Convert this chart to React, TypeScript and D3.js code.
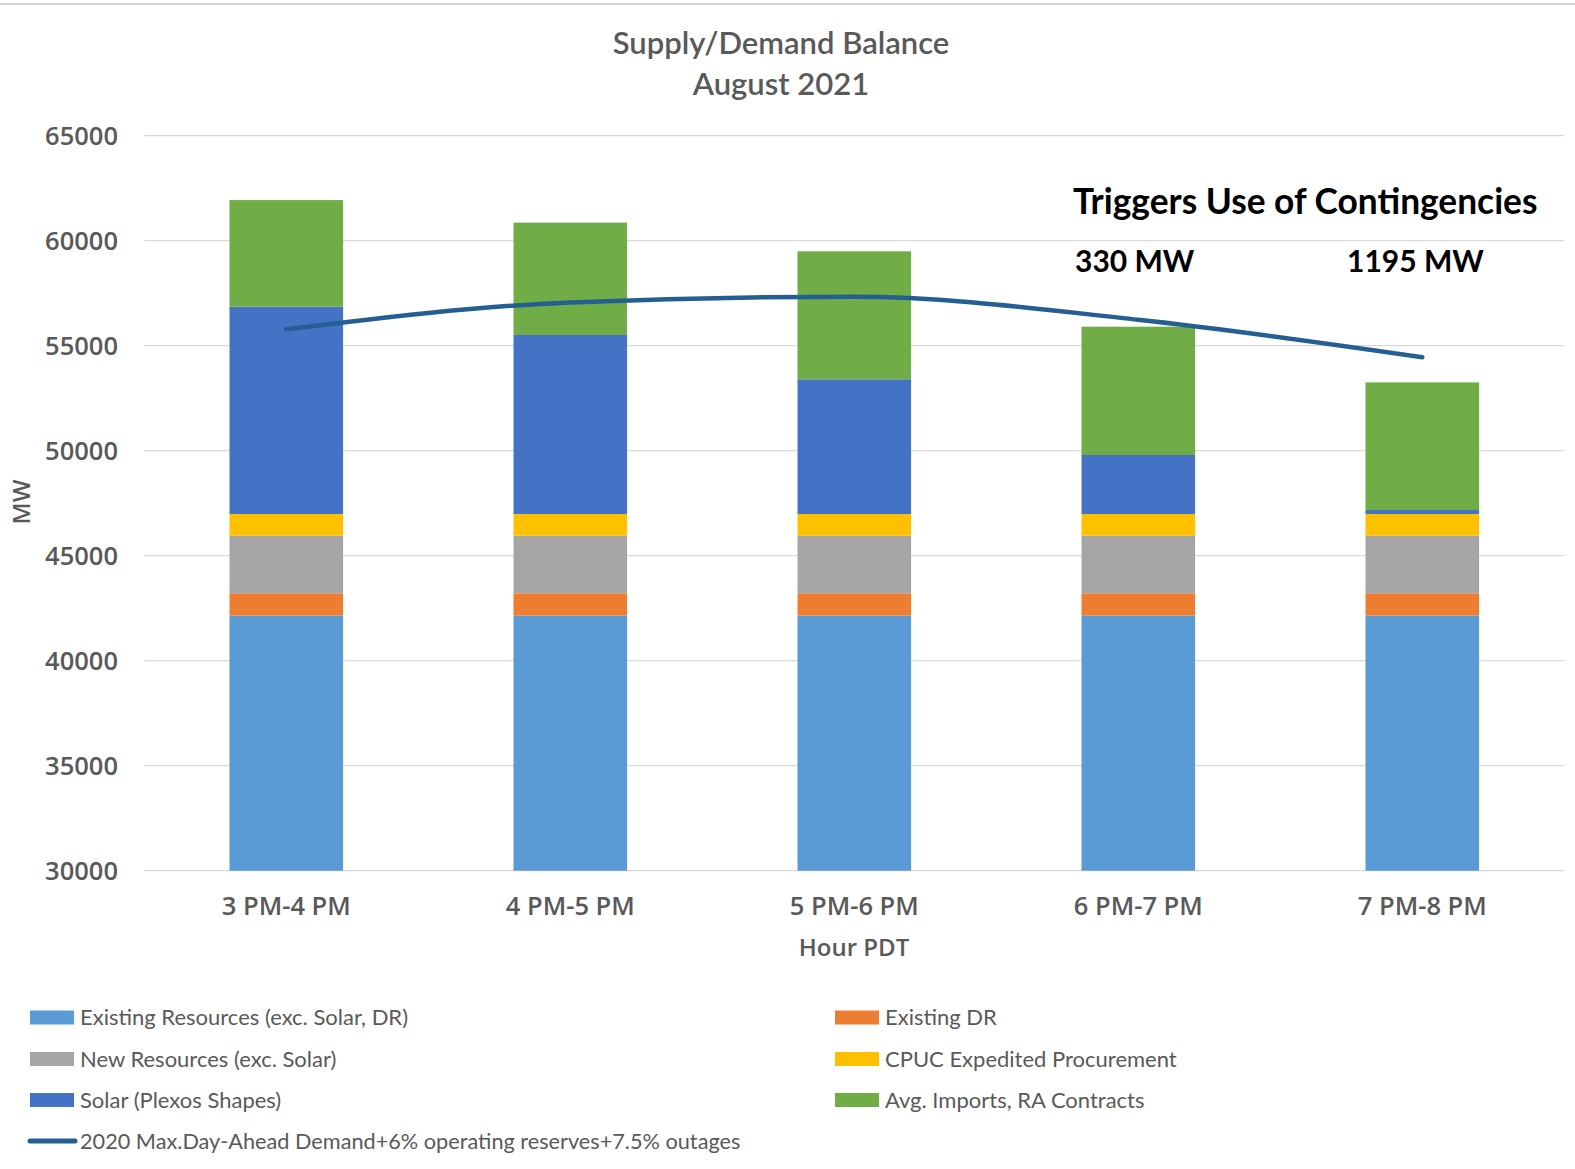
import * as d3 from "d3";
import { useEffect, useRef } from "react";

const categories = ["3 PM-4 PM", "4 PM-5 PM", "5 PM-6 PM", "6 PM-7 PM", "7 PM-8 PM"];

const existing = [42150, 42150, 42150, 42150, 42150];
const existingDR = [1060, 1060, 1060, 1060, 1060];
const newResources = [2745, 2745, 2745, 2745, 2745];
const cpuc = [1030, 1030, 1030, 1030, 1030];
const solar = [9870, 8525, 6415, 2810, 190];
const imports = [5080, 5350, 6095, 6110, 6080];

const demand = [55780, 57060, 57330, 56235, 54450];

const yTicks = [30000, 35000, 40000, 45000, 50000, 55000, 60000, 65000];

const seriesNames = [
    "Existing Resources (exc. Solar, DR)",
    "Existing DR",
    "New Resources (exc. Solar)",
    "CPUC Expedited Procurement",
    "Solar (Plexos Shapes)",
    "Avg. Imports, RA Contracts",
];
const seriesColors = ["#5B9BD5", "#ED7D31", "#A5A5A5", "#FFC000", "#4472C4", "#70AD47"];
const lineName = "2020 Max.Day-Ahead Demand+6% operating reserves+7.5% outages";
const lineColor = "#255E91";

const annotations = ["Triggers Use of Contingencies", "330 MW", "1195 MW"];

const W = 1575;
const H = 1169;

export default function App() {
    const ref = useRef<SVGSVGElement | null>(null);

    useEffect(() => {
        if (!ref.current) return;
        const svg = d3.select(ref.current);
        svg.selectAll("*").remove();

        const left = 144.3, right = 1564.3, top = 135.7, bottom = 870.7;
        const gray = "#595959";

        svg.append("rect").attr("width", W).attr("height", H).attr("fill", "white");
        svg.append("line")
            .attr("x1", 0).attr("x2", W).attr("y1", 4).attr("y2", 4)
            .attr("stroke", "#d0d0d0").attr("stroke-width", 2);

        const x = d3.scaleBand<string>()
            .domain(categories)
            .range([left, right])
            .paddingInner(0.6)
            .paddingOuter(0.3);

        const y = d3.scaleLinear().domain([30000, 65000]).range([bottom, top]);

        // gridlines + tick labels
        yTicks.forEach(t => {
            svg.append("line")
                .attr("x1", left).attr("x2", right)
                .attr("y1", y(t)).attr("y2", y(t))
                .attr("stroke", "#d9d9d9").attr("stroke-width", 1.3);
            svg.append("text")
                .attr("x", 118).attr("y", y(t))
                .attr("dy", "0.35em")
                .attr("text-anchor", "end")
                .attr("font-family", "Open Sans")
                .attr("font-weight", 600)
                .attr("font-size", 25.5)
                .attr("fill", gray)
                .text(t);
        });

        // stacked bars
        const values = [existing, existingDR, newResources, cpuc, solar, imports];
        const rows = categories.map((c, i) => {
            const r: any = { cat: c };
            values.forEach((v, k) => { r["s" + k] = v[i]; });
            return r;
        });
        const stack = d3.stack().keys(values.map((_, k) => "s" + k));
        const layers = stack(rows);

        layers.forEach((layer, k) => {
            svg.append("g").selectAll("rect")
                .data(layer)
                .join("rect")
                .attr("x", (d: any) => x(d.data.cat)!)
                .attr("width", x.bandwidth())
                .attr("y", d => y(Math.min(65000, d[1])))
                .attr("height", d => y(Math.max(30000, d[0])) - y(Math.min(65000, d[1])))
                .attr("fill", seriesColors[k]);
        });

        // demand line
        const line = d3.line<number>()
            .x((_, i) => x(categories[i])! + x.bandwidth() / 2)
            .y(d => y(d))
            .curve(d3.curveMonotoneX);
        svg.append("path")
            .attr("d", line(demand)!)
            .attr("fill", "none")
            .attr("stroke", lineColor)
            .attr("stroke-width", 4.5)
            .attr("stroke-linecap", "round");

        // x labels
        categories.forEach(c => {
            svg.append("text")
                .attr("x", x(c)! + x.bandwidth() / 2)
                .attr("y", 906)
                .attr("dy", "0.35em")
                .attr("text-anchor", "middle")
                .attr("font-family", "Open Sans")
                .attr("font-weight", 600)
                .attr("font-size", 25.5)
                .attr("fill", gray)
                .text(c);
        });

        svg.append("text")
            .attr("x", 854).attr("y", 948).attr("dy", "0.35em")
            .attr("text-anchor", "middle")
            .attr("font-family", "Open Sans").attr("font-weight", 600)
            .attr("font-size", 24).attr("fill", gray)
            .text("Hour PDT");

        svg.append("text")
            .attr("transform", "translate(22,502) rotate(-90)")
            .attr("dy", "0.35em")
            .attr("text-anchor", "middle")
            .attr("font-family", "Open Sans").attr("font-weight", 600)
            .attr("font-size", 24).attr("fill", gray)
            .text("MW");

        // title
        ["Supply/Demand Balance", "August 2021"].forEach((t, i) => {
            svg.append("text")
                .attr("x", 781).attr("y", i === 0 ? 43 : 84.5)
                .attr("dy", "0.35em")
                .attr("text-anchor", "middle")
                .attr("font-family", "Lato").attr("font-weight", 600)
                .attr("font-size", 31).attr("fill", gray)
                .text(t);
        });

        // annotations
        svg.append("text")
            .attr("x", 1073).attr("y", 202).attr("dy", "0.35em")
            .attr("font-family", "Lato").attr("font-weight", 700)
            .attr("font-size", 35.3).attr("fill", "#000")
            .text(annotations[0]);
        svg.append("text")
            .attr("x", 1075).attr("y", 261).attr("dy", "0.35em")
            .attr("font-family", "Lato").attr("font-weight", 700)
            .attr("font-size", 30).attr("fill", "#000")
            .text(annotations[1]);
        svg.append("text")
            .attr("x", 1347).attr("y", 261).attr("dy", "0.35em")
            .attr("font-family", "Lato").attr("font-weight", 700)
            .attr("font-size", 30).attr("fill", "#000")
            .text(annotations[2]);

        // legend
        const legendOrder = [0, 2, 4, 1, 3, 5];
        const rowY = [1017.5, 1059, 1100, 1141];
        legendOrder.forEach((k, i) => {
            const col = i < 3 ? 0 : 1;
            const row = i % 3;
            const sx = col === 0 ? 30 : 835;
            svg.append("rect")
                .attr("x", sx).attr("y", rowY[row] - 7)
                .attr("width", 44).attr("height", 14)
                .attr("fill", seriesColors[k]);
            svg.append("text")
                .attr("x", sx + 50).attr("y", rowY[row]).attr("dy", "0.35em")
                .attr("font-family", "Lato").attr("font-size", 22)
                .attr("fill", gray)
                .text(seriesNames[k]);
        });
        svg.append("line")
            .attr("x1", 30).attr("x2", 75)
            .attr("y1", rowY[3]).attr("y2", rowY[3])
            .attr("stroke", lineColor).attr("stroke-width", 5)
            .attr("stroke-linecap", "round");
        svg.append("text")
            .attr("x", 80).attr("y", rowY[3]).attr("dy", "0.35em")
            .attr("font-family", "Lato").attr("font-size", 21.7)
            .attr("fill", gray)
            .text(lineName);
    }, []);

    return (
        <svg
            ref={ref}
            width={W}
            height={H}
            style={{ position: "absolute", left: 0, top: 0 }}
        />
    );
}
